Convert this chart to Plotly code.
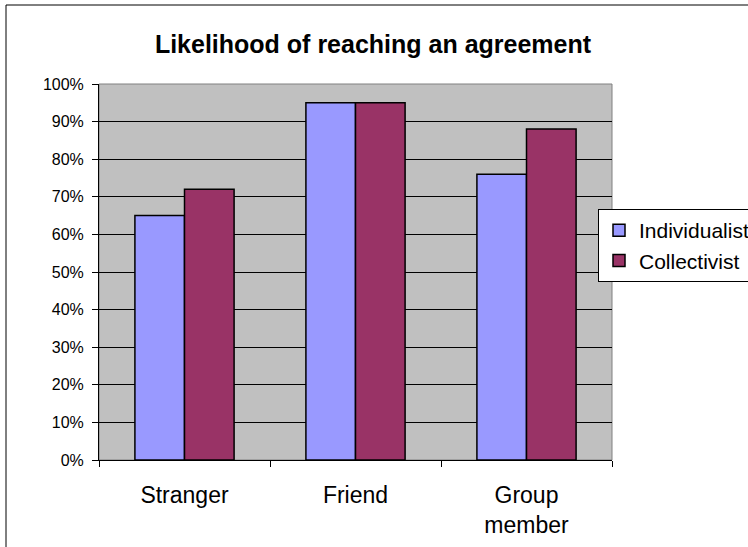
import plotly.graph_objects as go

categories = ["Stranger", "Friend", "Group<br>member"]
individualist = [0.65, 0.95, 0.76]
collectivist = [0.72, 0.95, 0.88]
series_names = ["Individualist", "Collectivist"]
title_text = "Likelihood of reaching an agreement"

FONT = "Liberation Sans, Arial, sans-serif"
W, H = 748, 547
L, R, T, B = 99, 612, 84, 460

def px_x(p):
    return (p - L) / (R - L)

def px_y(p):
    return (B - p) / (B - T)

fig = go.Figure()
fig.add_trace(go.Bar(x=categories, y=individualist, name=series_names[0],
                     marker=dict(color="#9999FF", line=dict(color="black", width=1.5))))
fig.add_trace(go.Bar(x=categories, y=collectivist, name=series_names[1],
                     marker=dict(color="#993366", line=dict(color="black", width=1.5))))

fig.update_layout(
    width=W, height=H,
    margin=dict(l=L, r=W - R, t=T, b=H - B, autoexpand=False),
    paper_bgcolor="white",
    plot_bgcolor="#C0C0C0",
    font=dict(family=FONT, color="black"),
    barmode="group",
    bargap=0.42,
    bargroupgap=0,
    title=dict(text="<b>" + title_text + "</b>", font=dict(size=25, family=FONT, color="black"),
               xref="paper", x=px_x(373), xanchor="center",
               yref="container", y=1 - 44 / H, yanchor="middle"),
    legend=dict(x=px_x(598), y=px_y(209), xanchor="left", yanchor="top",
                bgcolor="white", bordercolor="black", borderwidth=1,
                font=dict(size=21, family=FONT, color="black"),
                itemwidth=30, tracegroupgap=0),
    showlegend=True,
)

fig.update_yaxes(range=[0, 1], dtick=0.1, tickformat=".0%",
                 showgrid=True, gridcolor="black", gridwidth=1,
                 zeroline=False, showline=True, linecolor="black", linewidth=1,
                 ticks="outside", ticklen=6, tickcolor="black",
                 tickfont=dict(size=16, family=FONT, color="black"),
                 ticklabelstandoff=5)
fig.update_xaxes(showgrid=False, zeroline=False, showline=True, linecolor="black", linewidth=1,
                 ticks="outside", ticklen=6, tickcolor="black", tickson="boundaries",
                 tickfont=dict(size=23, family=FONT, color="black"),
                 ticklabelstandoff=14)

# plot area border (gray) and outer chart border
fig.add_shape(type="rect", xref="paper", yref="paper", x0=0, x1=1, y0=0, y1=1,
              line=dict(color="#808080", width=1), layer="below")
fig.add_shape(type="rect", xref="paper", yref="paper",
              x0=px_x(6), x1=px_x(800), y0=px_y(600), y1=px_y(5),
              line=dict(color="black", width=1))

fig.write_html("out.html")
